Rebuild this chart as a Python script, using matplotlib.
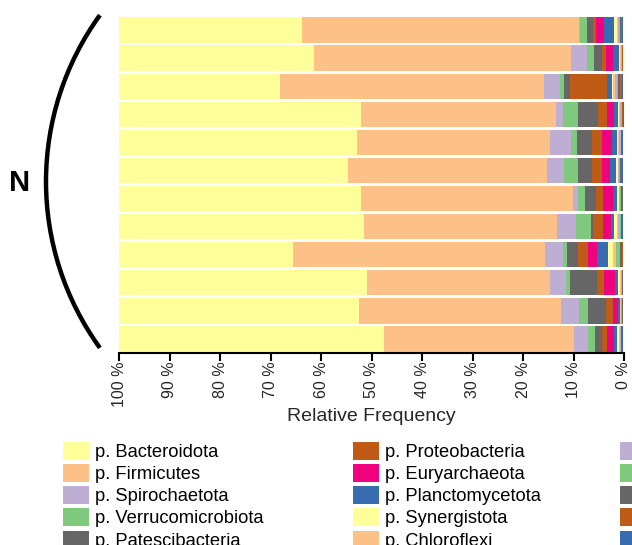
import numpy as np
import matplotlib
matplotlib.use("Agg")
import matplotlib.pyplot as plt
from matplotlib.patches import Arc, Patch

plt.rcParams["font.family"] = ["Liberation Sans", "DejaVu Sans"]

# relative frequencies (%) per phylum, one value per sample (top to bottom)
bacteroidota = [36.2, 38.6, 31.8, 47.9, 47.1, 45.3, 47.9, 48.5, 34.4, 49.1, 47.5, 52.4]
firmicutes = [54.9, 50.9, 52.3, 38.6, 38.2, 39.4, 41.9, 38.3, 49.9, 36.3, 40.0, 37.7]
spirochaetota = [0.1, 3.17, 3.17, 1.39, 4.16, 3.37, 0.99, 3.77, 3.57, 3.17, 3.57, 2.77]
verrucomicrobiota = [1.39, 1.39, 0.79, 2.97, 1.19, 2.77, 1.39, 2.97, 0.79, 0.79, 1.78, 1.39]
patescibacteria = [1.25, 1.64, 1.19, 3.96, 2.97, 2.77, 2.18, 0.4, 2.18, 5.35, 3.57, 1.39]
proteobacteria = [0.53, 0.73, 7.33, 1.78, 1.98, 1.98, 1.39, 1.98, 1.98, 1.39, 1.39, 0.99]
euryarchaeota = [1.59, 1.33, 0.1, 1.39, 2.12, 1.59, 1.98, 1.59, 1.78, 2.18, 0.99, 1.39]
planctomycetota = [1.98, 1.19, 0.93, 0.79, 0.85, 1.19, 0.79, 0.59, 2.18, 0.59, 0.4, 0.59]
synergistota = [0.59, 0.32, 0.26, 0.3, 0.3, 0.4, 0.4, 0.59, 0.99, 0.3, 0.1, 0.3]
chloroflexi = [0.2, 0.15, 0.3, 0.15, 0.2, 0.1, 0.1, 0.2, 0.59, 0.2, 0.1, 0.2]
actinobacteriota = [0.3, 0.1, 0.4, 0.1, 0.3, 0.1, 0.1, 0.4, 0.05, 0.2, 0.1, 0.2]
desulfobacterota = [0.2, 0.05, 0.2, 0.3, 0.1, 0.3, 0.3, 0.1, 0.79, 0.1, 0.05, 0.1]
cyanobacteria = [0.2, 0.05, 0.5, 0.05, 0.1, 0.3, 0.3, 0.05, 0.4, 0.1, 0.2, 0.1]
fibrobacterota = [0.2, 0.1, 0.4, 0.05, 0.1, 0.1, 0.05, 0.05, 0.26, 0.05, 0.1, 0.1]
elusimicrobiota = [0.1, 0.15, 0.2, 0.2, 0.2, 0.1, 0.05, 0.3, 0.0, 0.05, 0.05, 0.2]

series = [bacteroidota, firmicutes, spirochaetota, verrucomicrobiota, patescibacteria,
          proteobacteria, euryarchaeota, planctomycetota, synergistota, chloroflexi,
          actinobacteriota, desulfobacterota, cyanobacteria, fibrobacterota, elusimicrobiota]
names = ["p. Bacteroidota", "p. Firmicutes", "p. Spirochaetota", "p. Verrucomicrobiota",
         "p. Patescibacteria", "p. Proteobacteria", "p. Euryarchaeota", "p. Planctomycetota",
         "p. Synergistota", "p. Chloroflexi", "p. Actinobacteriota", "p. Desulfobacterota",
         "p. Cyanobacteria", "p. Fibrobacterota", "p. Elusimicrobiota"]
colors = ["#FFFF99", "#FDC086", "#BEAED4", "#7FC97F", "#666666", "#BF5B17", "#F0027F",
          "#386CB0", "#FFFF99", "#FDC086", "#BEAED4", "#7FC97F", "#666666", "#BF5B17",
          "#386CB0"]
ticks = list(range(0, 101, 10))

W, H = 632, 545
fig = plt.figure(figsize=(W / 100, H / 100), dpi=100)
ax = fig.add_axes([119.4 / W, 1 - 353 / H, (624 - 119.4) / W, (353 - 16) / H])

y = np.arange(len(bacteroidota))
cum = np.zeros(len(y))
for vals, col in zip(series, colors):
    vals = np.array(vals)
    # stacking starts at the 100 % side (left)
    ax.barh(y, vals, left=100 - cum - vals, height=0.9, color=col, linewidth=0)
    cum += vals

ax.set_xlim(100, 0)
ax.set_ylim(len(y) - 0.5, -0.5)
ax.set_yticks([])
ax.set_xticks(ticks)
ax.set_xticklabels([f"{t} %" for t in ticks], rotation=90, fontsize=11.5, color="#262626")
ax.tick_params(axis="x", length=6, width=1.5, pad=0, color="black")
for s in ["top", "right", "left"]:
    ax.spines[s].set_visible(False)
ax.spines["bottom"].set_linewidth(1.5)
ax.set_xlabel("Relative Frequency", fontsize=14, color="#262626", labelpad=1)

# bracket and group label, drawn in pixel space
over = fig.add_axes([0, 0, 1, 1], facecolor="none")
over.set_xlim(0, W)
over.set_ylim(H, 0)
over.axis("off")
R = 283.7
over.add_patch(Arc((329.7, 181.5), 2 * R, 2 * R, theta1=144.1, theta2=215.9,
                   lw=3.2, color="black"))
over.text(20, 183, "N", fontsize=21, fontweight="bold", ha="center", va="center")

# legend in three columns of five, the last column runs off the page
col_x = [63, 353, 620]
for c in range(3):
    handles = [Patch(facecolor=colors[i], edgecolor="none", label=names[i])
               for i in range(c * 5, c * 5 + 5)]
    fig.legend(handles=handles, loc="upper left", bbox_to_anchor=(col_x[c] / W, 1 - 442 / H),
               frameon=False, fontsize=13.2, handlelength=1.4, handleheight=1.1,
               handletextpad=0.33, labelspacing=0.17, borderpad=0, borderaxespad=0)

fig.savefig("out.png", dpi=100)
